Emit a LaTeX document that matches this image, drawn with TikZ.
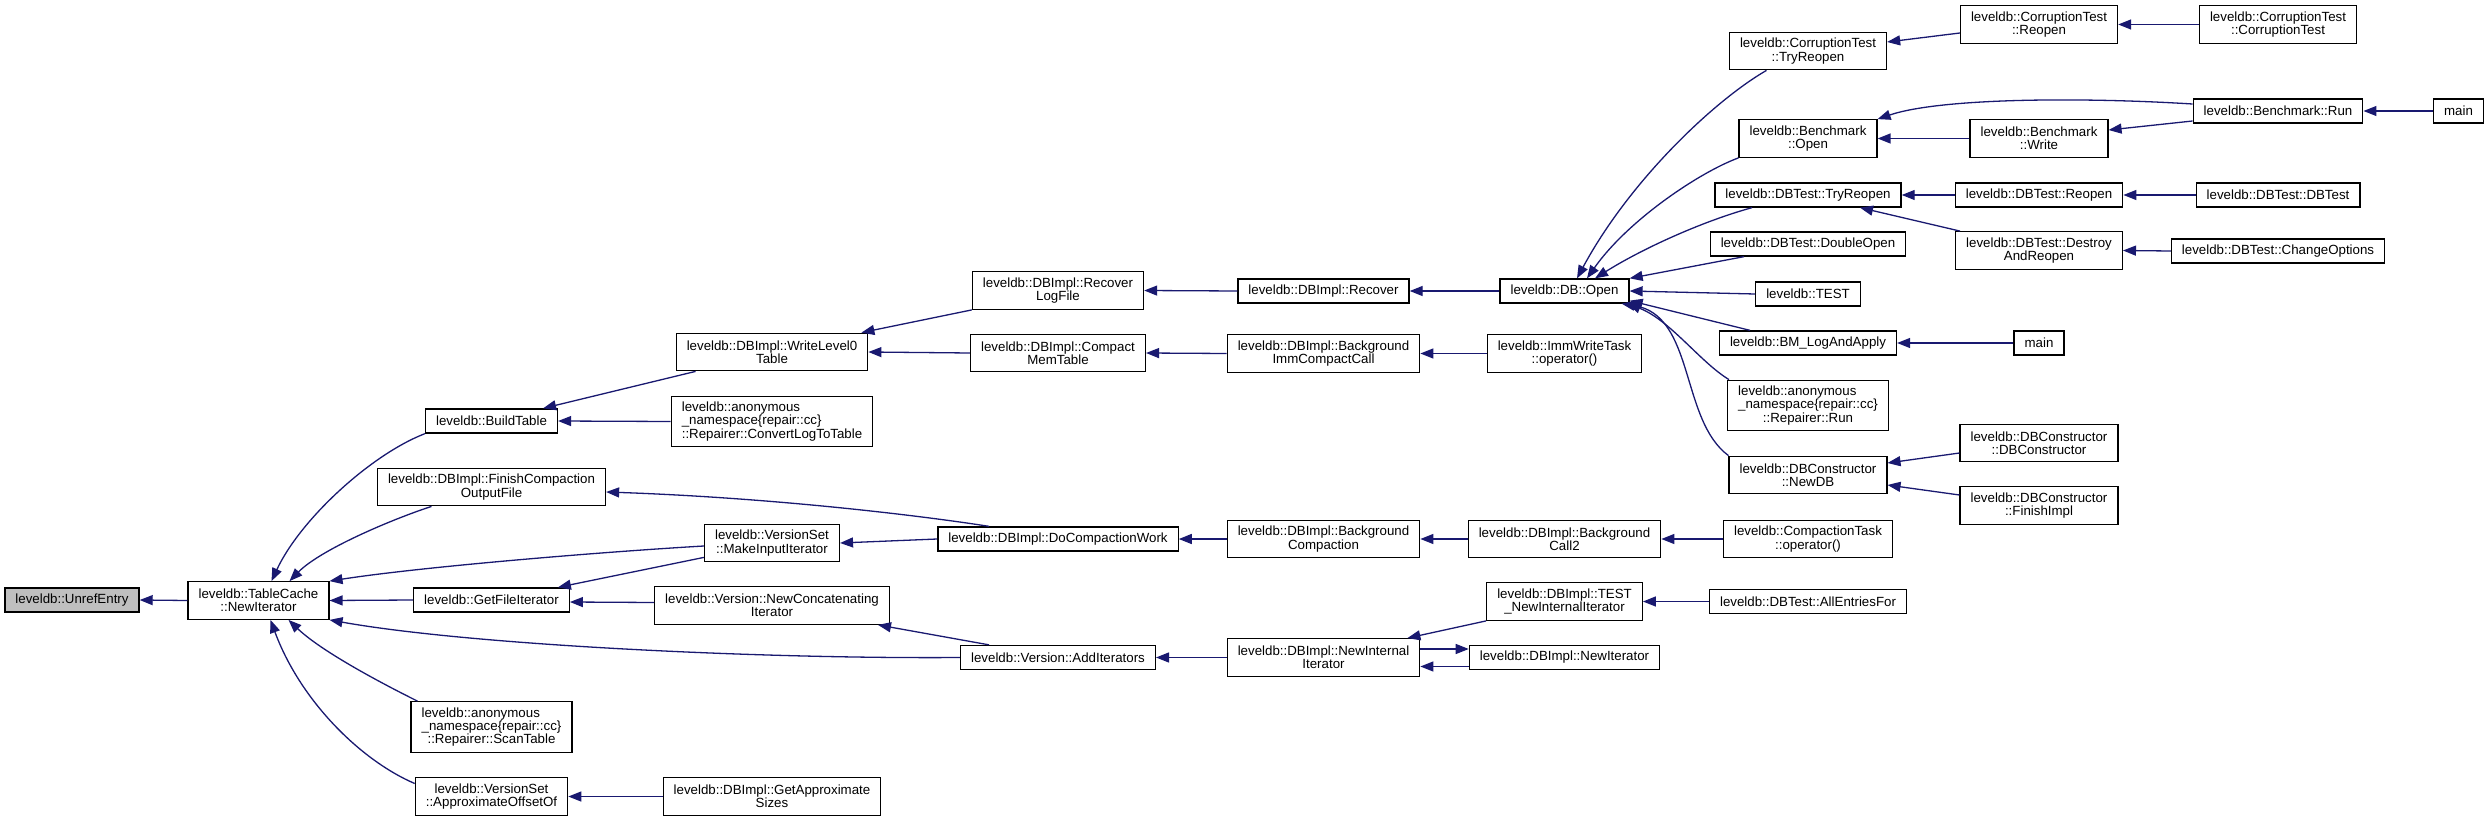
\documentclass[tikz,border=0pt]{standalone}
\usepackage{fontspec}
\setmainfont{Liberation Sans}
\usetikzlibrary{arrows.meta}
\definecolor{edgeblue}{RGB}{25,25,112}
\definecolor{rootgray}{RGB}{191,191,191}
\newcommand{\fsz}{\fontsize{13.3}{13.3}\selectfont}
\tikzset{
  box/.style={draw=black, fill=white, line width=1.3pt, inner xsep=10.5pt, inner ysep=1pt,
              minimum height=24pt, align=center, font=\fsz},
  two/.style={minimum height=37.5pt},
  three/.style={minimum height=50.5pt},
  root/.style={fill=rootgray},
  edge/.style={draw=edgeblue, line width=1.3pt, -{Triangle[length=13pt,width=10pt]}},
}
\begin{document}
\begin{tikzpicture}[x=1pt,y=-1pt]
\useasboundingbox (0,0) rectangle (2489,821);
% column 1-2
\node[box,root] (unref) at (72,600) {leveldb::UnrefEntry};
\node[box,two] (tcnew) at (258.5,600.5) {leveldb::TableCache\\::NewIterator};
% column 3
\node[box] (bt) at (491.5,421) {leveldb::BuildTable};
\node[box,two] (fcof) at (491.5,487) {leveldb::DBImpl::FinishCompaction\\OutputFile};
\node[box] (gfi) at (491.5,600) {leveldb::GetFileIterator};
\node[box,three] (scan) at (491.5,727) {\rlap{leveldb::anonymous}\hphantom{\_namespace\{repair::cc\}}\\\_namespace\{repair::cc\}\\::Repairer::ScanTable};
\node[box,two] (aoo) at (491.5,796.5) {leveldb::VersionSet\\::ApproximateOffsetOf};
% column 4
\node[box,two] (wl0) at (772,352) {leveldb::DBImpl::WriteLevel0\\Table};
\node[box,three,align=left] (clt) at (772,421.5) {leveldb::anonymous\\\_namespace\{repair::cc\}\\::Repairer::ConvertLogToTable};
\node[box,two] (mii) at (772,543) {leveldb::VersionSet\\::MakeInputIterator};
\node[box,two] (nci) at (772,605.5) {leveldb::Version::NewConcatenating\\Iterator};
\node[box,two] (gas) at (772,796.5) {leveldb::DBImpl::GetApproximate\\Sizes};
% column 5
\node[box,two] (rlf) at (1058,290.5) {leveldb::DBImpl::Recover\\LogFile};
\node[box,two] (cmt) at (1058,353) {leveldb::DBImpl::Compact\\MemTable};
\node[box] (dcw) at (1058,539) {leveldb::DBImpl::DoCompactionWork};
\node[box] (ai) at (1058,657.5) {leveldb::Version::AddIterators};
% column 6
\node[box] (rec) at (1323.5,291) {leveldb::DBImpl::Recover};
\node[box,two] (bic) at (1323.5,353.5) {leveldb::DBImpl::Background\\ImmCompactCall};
\node[box,two] (bgc) at (1323.5,539) {leveldb::DBImpl::Background\\Compaction};
\node[box,two] (nii) at (1323.5,657.5) {leveldb::DBImpl::NewInternal\\Iterator};
% column 7
\node[box] (dbopen) at (1564.5,291) {leveldb::DB::Open};
\node[box,two] (iwt) at (1564.5,353.5) {leveldb::ImmWriteTask\\::operator()};
\node[box,two] (bc2) at (1564.5,539) {leveldb::DBImpl::Background\\Call2};
\node[box,two] (tnii) at (1564.5,601.5) {leveldb::DBImpl::TEST\\\_NewInternalIterator};
\node[box] (dbni) at (1564.5,657.5) {leveldb::DBImpl::NewIterator};
% column 8
\node[box,two] (cttr) at (1808,51) {leveldb::CorruptionTest\\::TryReopen};
\node[box,two] (bo) at (1808,138.5) {leveldb::Benchmark\\::Open};
\node[box] (dttr) at (1808,195) {leveldb::DBTest::TryReopen};
\node[box] (dbo) at (1808,244) {leveldb::DBTest::DoubleOpen};
\node[box] (test) at (1808,294) {leveldb::TEST};
\node[box] (bmla) at (1808,343) {leveldb::BM\_LogAndApply};
\node[box,three] (run) at (1808,405.5) {\rlap{leveldb::anonymous}\hphantom{\_namespace\{repair::cc\}}\\\_namespace\{repair::cc\}\\::Repairer::Run};
\node[box,two] (newdb) at (1808,475) {leveldb::DBConstructor\\::NewDB};
\node[box,two] (ct) at (1808,539) {leveldb::CompactionTask\\::operator()};
\node[box] (aef) at (1808,601.5) {leveldb::DBTest::AllEntriesFor};
% column 9
\node[box,two] (ctr) at (2039,24.5) {leveldb::CorruptionTest\\::Reopen};
\node[box,two] (bw) at (2039,138.5) {leveldb::Benchmark\\::Write};
\node[box] (dtr) at (2039,195) {leveldb::DBTest::Reopen};
\node[box,two] (dar) at (2039,250.5) {leveldb::DBTest::Destroy\\AndReopen};
\node[box] (main2) at (2039,343) {main};
\node[box,two] (dbc) at (2039,443) {leveldb::DBConstructor\\::DBConstructor};
\node[box,two] (fi) at (2039,505.5) {leveldb::DBConstructor\\::FinishImpl};
% column 10
\node[box,two] (ctct) at (2278,24.5) {leveldb::CorruptionTest\\::CorruptionTest};
\node[box] (br) at (2278,111) {leveldb::Benchmark::Run};
\node[box] (dtdt) at (2278,195) {leveldb::DBTest::DBTest};
\node[box] (co) at (2278,251) {leveldb::DBTest::ChangeOptions};
% column 11
\node[box] (main1) at (2458.5,111) {main};

% edges into TableCache::NewIterator and UnrefEntry
\draw[edge] (tcnew.west) -- (unref.east);
\draw[edge] (bt.south west) .. controls (370,455) and (300,520) .. ([xshift=13pt]tcnew.north);
\draw[edge] ([xshift=-60pt]fcof.south) .. controls (390,520) and (320,550) .. ([xshift=31pt]tcnew.north);
\draw[edge] ([yshift=-3pt]mii.west) .. controls (600,552) and (420,567) .. (tcnew.north east);
\draw[edge] (gfi.west) -- (tcnew.east);
\draw[edge] (ai.west) .. controls (760,659) and (470,645) .. (tcnew.south east);
\draw[edge] ([xshift=7pt]scan.north west) .. controls (375,680) and (320,650) .. ([xshift=30pt]tcnew.south);
\draw[edge] ([yshift=13pt]aoo.west) .. controls (360,760) and (300,700) .. ([xshift=12pt]tcnew.south);
% column 4 -> 3
\draw[edge] ([xshift=20pt]wl0.south west) -- ([xshift=-15pt]bt.north east);
\draw[edge] (clt.west) -- (bt.east);
\draw[edge] ([yshift=5pt]mii.south west) -- ([xshift=-12pt]gfi.north east);
\draw[edge] ([yshift=3pt]nci.west) -- ([yshift=-2pt]gfi.east);
\draw[edge] (gas.west) -- (aoo.east);
% column 5 -> 4/3
\draw[edge] ([xshift=-69pt]dcw.north) .. controls (930,517) and (780,498) .. ([yshift=-5pt]fcof.east);
\draw[edge] (dcw.west) -- (mii.east);
\draw[edge] ([xshift=-69pt]ai.north) -- ([xshift=-12pt]nci.south east);
\draw[edge] (rlf.south west) -- ([xshift=-7pt]wl0.north east);
\draw[edge] (cmt.west) -- (wl0.east);
% column 6 -> 5
\draw[edge] (rec.west) -- (rlf.east);
\draw[edge] (bic.west) -- (cmt.east);
\draw[edge] (bgc.west) -- (dcw.east);
\draw[edge] (nii.west) -- (ai.east);
% column 7 -> 6
\draw[edge] (dbopen.west) -- (rec.east);
\draw[edge] (iwt.west) -- (bic.east);
\draw[edge] (bc2.west) -- (bgc.east);
\draw[edge] (tnii.south west) -- ([xshift=-13pt]nii.north east);
\draw[edge] ([yshift=8.5pt]nii.east) -- ([yshift=8.5pt]dbni.west);
\draw[edge] ([yshift=-9pt]dbni.west) -- ([yshift=-9pt]nii.east);
% column 8 -> 7
\draw[edge] ([xshift=-41.5pt]cttr.south) .. controls (1715,100) and (1630,180) .. ([xshift=12.5pt]dbopen.north);
\draw[edge] (bo.south west) .. controls (1700,172) and (1628,220) .. ([xshift=22.5pt]dbopen.north);
\draw[edge] ([xshift=-56pt]dttr.south) .. controls (1700,222) and (1640,250) .. ([xshift=30.5pt]dbopen.north);
\draw[edge] ([xshift=-64pt]dbo.south) -- (dbopen.north east);
\draw[edge] (test.west) -- (dbopen.east);
\draw[edge] ([xshift=-58pt]bmla.north) -- ([yshift=3pt]dbopen.south east);
\draw[edge] ([xshift=2pt]run.north west) .. controls (1700,362) and (1670,320) .. ([xshift=-2pt]dbopen.south east);
\draw[edge] (newdb.north west) .. controls (1680,420) and (1695,315) .. ([xshift=-8pt]dbopen.south east);
\draw[edge] (ct.west) -- (bc2.east);
\draw[edge] (aef.west) -- (tnii.east);
% column 9 -> 8
\draw[edge] ([yshift=-8.5pt]ctr.west) -- ([yshift=9pt]cttr.east);
\draw[edge] (bw.west) -- (bo.east);
\draw[edge] (dtr.west) -- (dttr.east);
\draw[edge] ([xshift=5pt]dar.north west) -- ([xshift=52pt]dttr.south);
\draw[edge] (main2.west) -- (bmla.east);
\draw[edge] ([yshift=-10pt]dbc.west) -- ([yshift=12pt]newdb.east);
\draw[edge] ([yshift=10.5pt]fi.west) -- ([yshift=-10pt]newdb.east);
% column 10 -> 9/8
\draw[edge] (ctct.west) -- (ctr.east);
\draw[edge] ([yshift=7pt]br.west) .. controls (2080,97) and (1940,98) .. (bo.north east);
\draw[edge] ([yshift=-10pt]br.west) -- ([yshift=8.5pt]bw.east);
\draw[edge] (dtdt.west) -- (dtr.east);
\draw[edge] (co.west) -- (dar.east);
% column 11 -> 10
\draw[edge] (main1.west) -- (br.east);
\end{tikzpicture}
\end{document}
